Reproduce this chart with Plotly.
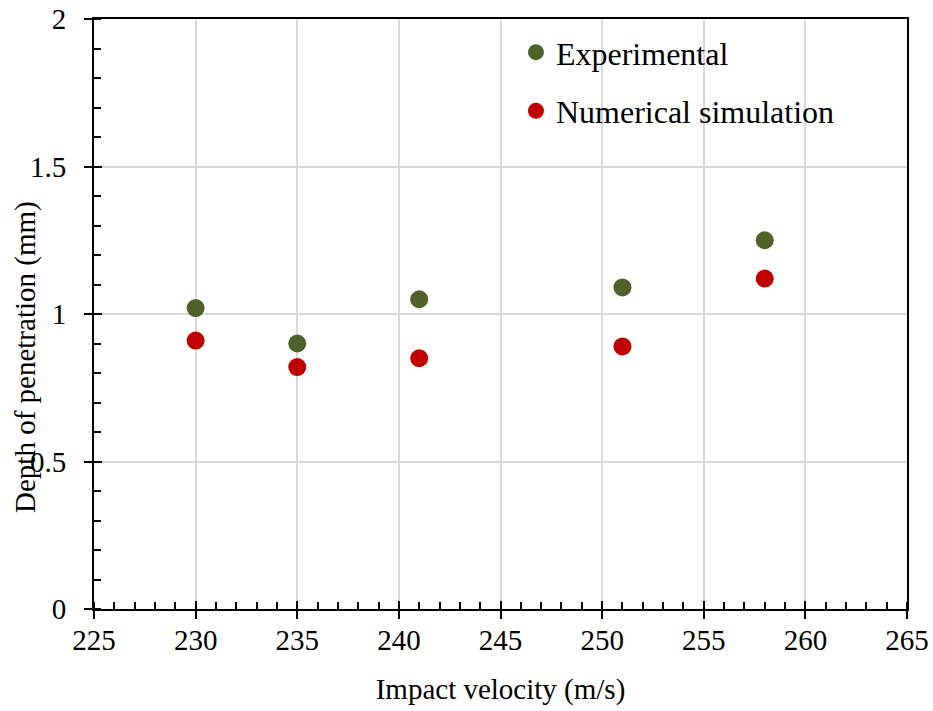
import plotly.graph_objects as go

velocity = [230, 235, 241, 251, 258]
experimental = [1.02, 0.90, 1.05, 1.09, 1.25]
numerical = [0.91, 0.82, 0.85, 0.89, 1.12]

x_ticks = [225, 230, 235, 240, 245, 250, 255, 260, 265]
y_ticks = [0, 0.5, 1, 1.5, 2]
y_tick_labels = ["0", "0.5", "1", "1.5", "2"]

FONT = "Liberation Serif, Times New Roman, serif"

fig = go.Figure()
fig.add_trace(go.Scatter(x=velocity, y=experimental, mode="markers", name="Experimental",
                         legendgroup="a",
                         marker=dict(size=18, color="#4F6228")))
fig.add_trace(go.Scatter(x=velocity, y=numerical, mode="markers", name="Numerical simulation",
                         legendgroup="b",
                         marker=dict(size=18, color="#C00000")))
# overlay axes for the inner half of the crossing major ticks
fig.add_trace(go.Scatter(x=[None], y=[None], xaxis="x2", yaxis="y2", showlegend=False,
                         hoverinfo="skip"))

common = dict(showline=True, linecolor="black", linewidth=2, mirror=True,
              gridcolor="#d9d9d9", gridwidth=1.5, zeroline=False, automargin=False,
              tickfont=dict(family=FONT, size=29, color="black"),
              ticks="outside", ticklen=8, tickwidth=2, tickcolor="black")

fig.update_layout(
    width=933, height=711,
    margin=dict(l=94, r=26, t=19, b=102),
    paper_bgcolor="white", plot_bgcolor="white",
    font=dict(family=FONT, color="black"),
    showlegend=True,
    legend=dict(x=0.519, y=0.99, xanchor="left", yanchor="top",
                font=dict(family=FONT, size=32, color="black"),
                bgcolor="rgba(0,0,0,0)", tracegroupgap=14, itemsizing="trace"),
    xaxis=dict(range=[225, 265], tickvals=x_ticks, ticktext=[str(v) for v in x_ticks],
               ticklabelstandoff=-4,
               title=dict(text="Impact velocity (m/s)", font=dict(family=FONT, size=29, color="black"),
                          standoff=24),
               minor=dict(ticks="inside", dtick=1, ticklen=7, tickwidth=1.5, tickcolor="black",
                          showgrid=False),
               **common),
    yaxis=dict(range=[0, 2], tickvals=y_ticks, ticktext=y_tick_labels, ticklabelstandoff=12,
               minor=dict(ticks="inside", dtick=0.1, ticklen=7, tickwidth=1.5, tickcolor="black",
                          showgrid=False),
               **common),
    xaxis2=dict(range=[225, 265], overlaying="x", tickvals=x_ticks, showticklabels=False,
                showgrid=False, zeroline=False, showline=False,
                ticks="inside", ticklen=8, tickwidth=2, tickcolor="black"),
    yaxis2=dict(range=[0, 2], overlaying="y", tickvals=y_ticks, showticklabels=False,
                showgrid=False, zeroline=False, showline=False,
                ticks="inside", ticklen=8, tickwidth=2, tickcolor="black"),
    annotations=[dict(text="Depth of penetration (mm)", textangle=-90,
                      xref="paper", yref="paper", x=-0.085, y=0.427,
                      xanchor="center", yanchor="middle", showarrow=False,
                      font=dict(family=FONT, size=29, color="black"))],
)

fig.write_html("out.html")
